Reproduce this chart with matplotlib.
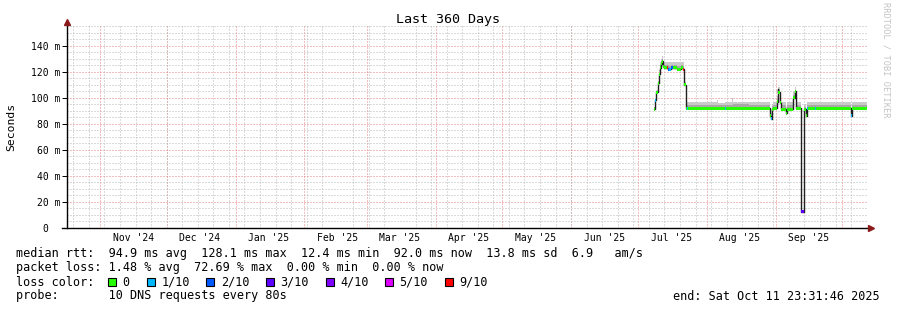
import numpy as np
import pandas as pd
import matplotlib
matplotlib.use("Agg")
import matplotlib.pyplot as plt
import matplotlib.dates as mdates
from matplotlib.patches import Rectangle
from datetime import datetime

plt.rcParams["font.family"] = "DejaVu Sans Mono"
plt.rcParams["axes.unicode_minus"] = False

# median rtt (ms), smoke band and loss class per consolidated sample
dates = [
    "2025-07-08 03:00", "2025-07-08 13:00", "2025-07-09 06:00", "2025-07-09 22:00",
    "2025-07-10 09:00", "2025-07-10 19:00", "2025-07-11 06:00", "2025-07-11 17:00",
    "2025-07-12 04:00", "2025-07-12 15:00", "2025-07-13 23:00", "2025-07-14 10:00",
    "2025-07-15 02:00", "2025-07-15 18:00", "2025-07-16 16:00", "2025-07-18 11:00",
    "2025-07-20 06:00", "2025-07-21 04:00", "2025-07-21 20:00", "2025-07-22 12:00",
    "2025-07-22 23:00", "2025-07-23 10:00", "2025-07-29 00:00", "2025-08-05 16:00",
    "2025-08-06 04:00", "2025-08-09 01:00", "2025-08-09 12:00", "2025-08-12 10:00",
    "2025-08-12 22:00", "2025-08-20 00:00", "2025-08-29 07:00", "2025-08-29 18:00",
    "2025-08-30 05:00", "2025-08-31 02:00", "2025-09-01 11:00", "2025-09-01 22:00",
    "2025-09-02 08:00", "2025-09-02 19:00", "2025-09-03 06:00", "2025-09-05 12:00",
    "2025-09-06 04:00", "2025-09-09 02:00", "2025-09-09 13:00", "2025-09-10 00:00",
    "2025-09-12 06:00", "2025-09-12 13:00", "2025-09-13 18:00", "2025-09-14 12:00",
    "2025-09-14 23:00", "2025-09-15 10:00", "2025-09-18 13:00", "2025-09-19 00:00",
    "2025-10-04 18:00", "2025-10-05 05:00", "2025-10-11 23:00",
]
median_ms = [
    91, 98, 104, 111, 118, 123, 126, 128, 124, 123, 123, 122, 122, 123, 123, 122,
    123, 122, 110, 92, 92, 92, 92, 92, 92, 92, 92, 92, 92, 92, 86, 84,
    91, 92, 97, 107, 104, 96, 91, 88, 91, 100, 105, 92, 88, 12.4, 91, 86,
    92, 92, 92, 92, 86, 92, 92,
]
smoke_top = [
    93, 100, 106, 113, 121, 127.5, 130, 132, 128, 127.5, 127.5, 127.5, 127, 127.5, 127.5, 127,
    127.5, 127, 112, 96.5, 96.5, 96.5, 96.5, 98, 96, 96.5, 96.5, 100, 96.5, 96.5, 90, 88,
    95.5, 96.5, 101, 110, 108, 99, 96.5, 93, 96.5, 104, 108, 96.5, 92, 14, 95, 90,
    96.5, 96.5, 96.5, 96.5, 90, 96.5, 96.5,
]
smoke_mid = [
    92.5, 99, 105, 112, 119, 125, 128, 130, 126, 125, 125, 125, 124.5, 125, 125, 124.5,
    125, 124.5, 111, 94, 94, 94, 94.5, 94.5, 94, 94.5, 94, 94.5, 95, 94.5, 88, 86,
    93.5, 94.5, 99, 108, 106, 97, 94, 90, 94, 102, 106, 94.5, 90, 13, 93, 88,
    94.5, 94.5, 94.5, 94.5, 88, 94.5, 94.5,
]
loss = [
    0, 1, 0, 0, 0, 0, 0, 0, 0, 0, 9, 2, 1, 2, 0, 0,
    0, 9, 0, 0, 1, 0, 0, 0, 0, 1, 0, 0, 0, 0, 0, 1,
    0, 0, 0, 0, 0, 0, 0, 0, 0, 0, 0, 0, 0, 3, 0, 0,
    1, 0, 1, 0, 1, 0, 0,
]

loss_labels = ["0", "1/10", "2/10", "3/10", "4/10", "5/10", "9/10"]
loss_levels = [0, 1, 2, 3, 4, 5, 9]
loss_colors = ["#26ff00", "#00b8ff", "#0059ff", "#5e00ff", "#7e00ff", "#dd00ff", "#ff0000"]

start = datetime(2024, 10, 16, 23, 31, 46)
end = datetime(2025, 10, 11, 23, 31, 46)

x = mdates.date2num(pd.to_datetime(dates).to_pydatetime())
med = np.array(median_ms, dtype=float)
top = np.array(smoke_top, dtype=float)
mid = np.array(smoke_mid, dtype=float)
color_of = dict(zip(loss_levels, loss_colors))

W, H = 897, 310
fig = plt.figure(figsize=(W / 100, H / 100), dpi=100)
ax = fig.add_axes([66.6 / W, 82 / H, 800 / W, 202 / H])
ax.set_xlim(start, end)
ax.set_ylim(0, 155)

for s in ax.spines.values():
    s.set_visible(False)

# grid
dot = (0, (1, 2))
ax.yaxis.set_major_locator(matplotlib.ticker.MultipleLocator(20))
ax.yaxis.set_minor_locator(matplotlib.ticker.MultipleLocator(5))
ax.xaxis.set_major_locator(mdates.MonthLocator(bymonthday=16))
ax.xaxis.set_major_formatter(mdates.DateFormatter("%b '%y"))
ax.xaxis.set_minor_locator(mdates.WeekdayLocator(byweekday=mdates.SU))
ax.grid(which="minor", axis="both", color="#b8b8b8", linestyle=dot, linewidth=0.72, zorder=0)
ax.grid(which="major", axis="y", color="#ec8080", linestyle=dot, linewidth=0.72, zorder=0)
for m in mdates.MonthLocator().tick_values(start, end):
    ax.axvline(m, color="#ec8080", linestyle=dot, linewidth=0.72, zorder=0.5)
ax.set_axisbelow(True)

yt = np.arange(0, 141, 20)
ax.set_yticks(yt)
ax.set_yticklabels(["0  "] + [f"{v} m" for v in yt[1:]])
ax.tick_params(axis="y", which="major", length=3.5, width=0.7, pad=1, labelsize=7)
ax.tick_params(axis="y", which="minor", length=0)
ax.tick_params(axis="x", which="major", length=0, pad=3.5, labelsize=7)
ax.tick_params(axis="x", which="minor", length=0)

# smoke
ax.fill_between(x, med, top, step="post", color="#cacaca", linewidth=0, zorder=2)
ax.fill_between(x, med, mid, step="post", color="#a8a8a8", linewidth=0, zorder=2.1)

# median line and loss colour blocks
ax.step(x, med, where="post", color="#202020", linewidth=1, zorder=3)
ax.bar(x[:-1], 2.3, bottom=med[:-1] - 1.15, width=np.diff(x), align="edge",
       color=[color_of[l] for l in loss[:-1]], linewidth=0, zorder=4)

# axes with arrows
ax.axhline(0, xmin=-0.006, xmax=1.004, color="black", linewidth=1, clip_on=False, zorder=5)
ax.axvline(mdates.date2num(start), ymin=0, ymax=1.015, color="black", linewidth=1, clip_on=False, zorder=5)
ax.plot([1.006], [0], marker=">", color="#8b1a1a", markersize=4, transform=ax.transAxes, clip_on=False, zorder=6)
ax.plot([0], [1.02], marker="^", color="#8b1a1a", markersize=4, transform=ax.transAxes, clip_on=False, zorder=6)

# texts
fig.text(448 / W, 1 - 19 / H, "Last 360 Days", ha="center", va="center", fontsize=9.6)
fig.text(11 / W, 1 - 127 / H, "Seconds", rotation=90, ha="center", va="center", fontsize=8.2)
fig.text(886 / W, 1 - 60 / H, "RRDTOOL / TOBI OETIKER", rotation=270, ha="center", va="center",
         fontsize=6.2, color="#c4c4c4")

fs = 8.5
def ftext(px, py, s, **kw):
    fig.text(px / W, 1 - py / H, s, va="center", fontsize=fs, **kw)

ftext(16, 254, "median rtt:  94.9 ms avg  128.1 ms max  12.4 ms min  92.0 ms now  13.8 ms sd  6.9   am/s")
ftext(16, 268, "packet loss: 1.48 % avg  72.69 % max  0.00 % min  0.00 % now")
ftext(16, 282, "loss color:")
bx = 108.3
for lab, col in zip(loss_labels, loss_colors):
    fig.add_artist(Rectangle((bx / W, 1 - 286 / H), 8 / W, 8 / H, transform=fig.transFigure,
                             facecolor=col, edgecolor="black", linewidth=0.8))
    ftext(bx + 14.4, 282, lab)
    bx = bx + 14.4 + len(lab) * 7.05 + 17
ftext(16, 296, "probe:       10 DNS requests every 80s")
ftext(880, 296, "end: Sat Oct 11 23:31:46 2025", ha="right")

fig.savefig("out.png", dpi=100)
